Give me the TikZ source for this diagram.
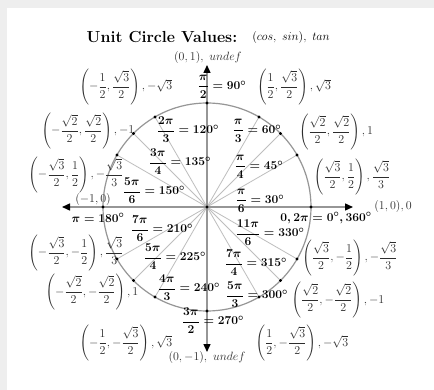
\documentclass[tikz,border=0pt]{standalone}
\usepackage{amsmath}
\usetikzlibrary{arrows.meta}
\definecolor{bgray}{RGB}{238,238,238}
\definecolor{axisgray}{RGB}{150,150,150}
\definecolor{radgray}{RGB}{190,190,190}
\definecolor{labgray}{RGB}{45,45,45}
\begin{document}
\begin{tikzpicture}[x=1pt,y=-1pt,
  coordlab/.style={text=labgray,inner sep=0pt,font=\fontsize{12}{14}\selectfont},
  anglab/.style={text=black,inner sep=0pt,font=\fontsize{12.5}{14}\selectfont\boldmath},
  axisline/.style={draw=axisgray,line width=1.4pt,{Triangle[length=8pt,width=7pt,color=black]}-{Triangle[length=8pt,width=7pt,color=black]}},
  radline/.style={draw=radgray,line width=0.8pt},
  circline/.style={draw=axisgray,line width=1.2pt},
  dotmark/.style={circle,fill=black,inner sep=0pt,minimum size=3.2pt}]
\useasboundingbox (0,0) rectangle (434,390);
\fill[bgray] (0,0) rectangle (434,390);
\fill[white] (7,8) rectangle (434,390);
\coordinate (O) at (207,207);
\foreach \a in {0,30,45,60,90,120,135,150,180,210,225,240,270,300,315,330}
  \coordinate (P\a) at ([shift={(O)}] -\a:104);
\foreach \a in {30,45,60,120,135,150,210,225,240,300,315,330}
  \draw[radline] (O) -- (P\a);
\draw[circline] (O) circle[radius=104];
\coordinate (AL) at (62,207);
\coordinate (AR) at (353,207);
\coordinate (AT) at (207,65);
\coordinate (AB) at (207,352);
\draw[axisline] (AL) -- (AR);
\draw[axisline] (AT) -- (AB);
\foreach \a in {0,30,45,60,90,120,135,150,180,210,225,240,270,300,315,330}
  \node[dotmark] (D\a) at (P\a) {};
\node[dotmark] (DO) at (O) {};
% title
\node[inner sep=0pt,font=\fontsize{16}{18}\selectfont\bfseries] (title) at (162,37) {Unit Circle Values:};
\node[inner sep=0pt,font=\fontsize{11.5}{13}\selectfont] (title2) at (291,38) {$(cos,\ sin),\ tan$};
% coordinate labels
\node[coordlab] (c90) at (208,58) {$(0,1),\ undef$};
\node[coordlab] (c120) at (126,87) {$\left(-\dfrac{1}{2},\dfrac{\sqrt{3}}{2}\right),-\sqrt{3}$};
\node[coordlab] (c60) at (294,87) {$\left(\dfrac{1}{2},\dfrac{\sqrt{3}}{2}\right),\sqrt{3}$};
\node[coordlab] (c135) at (88,131) {$\left(-\dfrac{\sqrt{2}}{2},\dfrac{\sqrt{2}}{2}\right),-1$};
\node[coordlab] (c45) at (336,132) {$\left(\dfrac{\sqrt{2}}{2},\dfrac{\sqrt{2}}{2}\right),1$};
\node[coordlab] (c150) at (76,175) {$\left(-\dfrac{\sqrt{3}}{2},\dfrac{1}{2}\right),-\dfrac{\sqrt{3}}{3}$};
\node[coordlab] (c30) at (352,177) {$\left(\dfrac{\sqrt{3}}{2},\dfrac{1}{2}\right),\dfrac{\sqrt{3}}{3}$};
\node[coordlab] (c180) at (93,200) {$(-1,0)$};
\node[coordlab] (c0) at (393,207) {$(1,0),0$};
\node[coordlab] (c210) at (76,253) {$\left(-\dfrac{\sqrt{3}}{2},-\dfrac{1}{2}\right),\dfrac{\sqrt{3}}{3}$};
\node[coordlab] (c330) at (350,258) {$\left(\dfrac{\sqrt{3}}{2},-\dfrac{1}{2}\right),-\dfrac{\sqrt{3}}{3}$};
\node[coordlab] (c225) at (92,292) {$\left(-\dfrac{\sqrt{2}}{2},-\dfrac{\sqrt{2}}{2}\right),1$};
\node[coordlab] (c315) at (338,300) {$\left(\dfrac{\sqrt{2}}{2},-\dfrac{\sqrt{2}}{2}\right),-1$};
\node[coordlab] (c240) at (126,343) {$\left(-\dfrac{1}{2},-\dfrac{\sqrt{3}}{2}\right),\sqrt{3}$};
\node[coordlab] (c300) at (302,343) {$\left(\dfrac{1}{2},-\dfrac{\sqrt{3}}{2}\right),-\sqrt{3}$};
\node[coordlab] (c270) at (207,357) {$(0,-1),\ undef$};
% angle labels
\node[anglab] (a90) at (222,87) {$\dfrac{\pi}{2}=90^\circ$};
\node[anglab] (a120) at (188,130) {$\dfrac{2\pi}{3}=120^\circ$};
\node[anglab] (a60) at (257,131) {$\dfrac{\pi}{3}=60^\circ$};
\node[anglab] (a135) at (180,162) {$\dfrac{3\pi}{4}=135^\circ$};
\node[anglab] (a45) at (259,167) {$\dfrac{\pi}{4}=45^\circ$};
\node[anglab] (a150) at (154,191) {$\dfrac{5\pi}{6}=150^\circ$};
\node[anglab] (a30) at (260,201) {$\dfrac{\pi}{6}=30^\circ$};
\node[anglab] (a180) at (98,218) {$\pi=180^\circ$};
\node[anglab] (a0) at (326,218) {$0,2\pi=0^\circ,360^\circ$};
\node[anglab] (a210) at (162,229) {$\dfrac{7\pi}{6}=210^\circ$};
\node[anglab] (a330) at (270,233) {$\dfrac{11\pi}{6}=330^\circ$};
\node[anglab] (a225) at (175,257) {$\dfrac{5\pi}{4}=225^\circ$};
\node[anglab] (a315) at (256,263) {$\dfrac{7\pi}{4}=315^\circ$};
\node[anglab] (a240) at (189,288) {$\dfrac{4\pi}{3}=240^\circ$};
\node[anglab] (a300) at (257,295) {$\dfrac{5\pi}{3}=300^\circ$};
\node[anglab] (a270) at (213,321) {$\dfrac{3\pi}{2}=270^\circ$};
\end{tikzpicture}
\end{document}
